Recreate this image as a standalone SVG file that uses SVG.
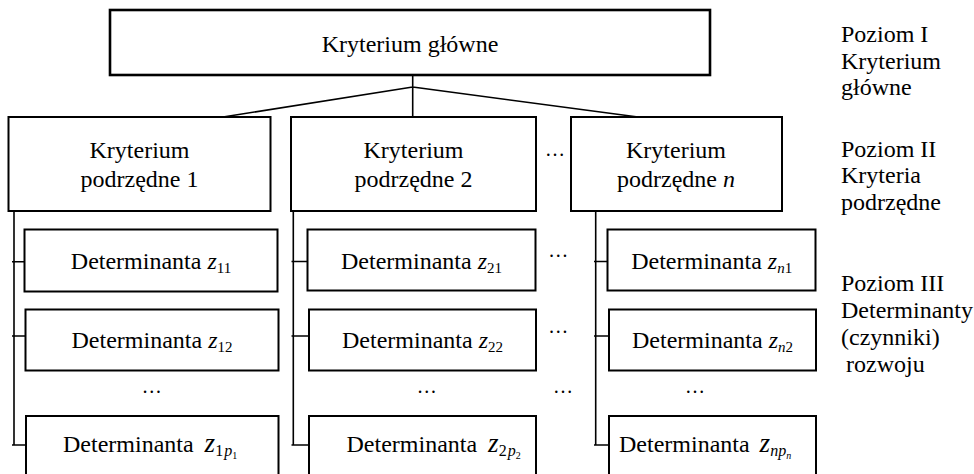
<svg xmlns="http://www.w3.org/2000/svg" width="974" height="474" viewBox="0 0 974 474">
<style>
.box{fill:#fff;stroke:#000;stroke-width:2}
.top{stroke-width:2.6}
.conn{fill:none;stroke:#000;stroke-width:1.6}
text{font-family:"Liberation Serif","Times New Roman",serif;font-size:24px;fill:#000}
.c{text-anchor:middle}
.i{font-style:italic}
.dots{font-size:20px;text-anchor:middle}
</style>
<rect width="974" height="474" fill="#fff"/>
<g id="connectors">
<path class="conn" d="M412.7 75V87M412.7 87L223 117M412.7 87V117M412.7 87L638 117"/>
<path class="conn" d="M14 211V445M12 261.7H25M12 336H26M12 445H26"/>
<path class="conn" d="M293.3 207V445M291.5 261.5H308M291.5 336H309M291.5 445H309"/>
<path class="conn" d="M595.7 211V445M594 261.5H608M594 336H609M594 445H609"/>
</g>
<g id="node-main">
<rect class="box top" x="110" y="10" width="600" height="65"/>
<text class="c" x="410" y="52">Kryterium główne</text>
</g>
<g id="node-k1">
<rect class="box" x="8.5" y="117" width="262" height="94"/>
<text class="c" x="139.5" y="158">Kryterium</text>
<text class="c" x="139.5" y="186.5">podrzędne 1</text>
</g>
<g id="node-k2">
<rect class="box" x="291" y="117" width="245" height="94"/>
<text class="c" x="413.5" y="158">Kryterium</text>
<text class="c" x="413.5" y="186.5">podrzędne 2</text>
</g>
<g id="node-kn">
<rect class="box" x="571" y="117" width="211" height="94"/>
<text class="c" x="676" y="158">Kryterium</text>
<text class="c" x="676" y="186.5">podrzędne <tspan class="i">n</tspan></text>
</g>
<g id="node-z11">
<rect class="box" x="24.5" y="229.5" width="253" height="62"/>
<text class="c" x="151" y="269">Determinanta <tspan class="i">z</tspan><tspan font-size="15" dy="4">11</tspan></text>
</g>
<g id="node-z12">
<rect class="box" x="25.5" y="309.5" width="253" height="61"/>
<text class="c" x="152" y="348.3">Determinanta <tspan class="i">z</tspan><tspan font-size="15" dy="4">12</tspan></text>
</g>
<g id="node-z1p">
<rect class="box" x="26" y="416" width="252.5" height="72"/>
<text x="63" y="451.5">Determinanta<tspan class="i" dx="11" font-size="27">z</tspan><tspan font-size="16" dy="4">1</tspan><tspan class="i" font-size="16" dx="1">p</tspan><tspan font-size="10" dy="3">1</tspan></text>
</g>
<g id="node-z21">
<rect class="box" x="307.5" y="229.5" width="228" height="61"/>
<text class="c" x="421.5" y="269">Determinanta <tspan class="i">z</tspan><tspan font-size="15" dy="4">21</tspan></text>
</g>
<g id="node-z22">
<rect class="box" x="309" y="309.5" width="227" height="61"/>
<text class="c" x="422.5" y="348.3">Determinanta <tspan class="i">z</tspan><tspan font-size="15" dy="4">22</tspan></text>
</g>
<g id="node-z2p">
<rect class="box" x="309" y="416" width="227" height="72"/>
<text x="346.5" y="451.5">Determinanta<tspan class="i" dx="11" font-size="27">z</tspan><tspan font-size="16" dy="4">2</tspan><tspan class="i" font-size="16" dx="1">p</tspan><tspan font-size="10" dy="3">2</tspan></text>
</g>
<g id="node-zn1">
<rect class="box" x="607.5" y="229.5" width="208" height="61"/>
<text class="c" x="711.7" y="269">Determinanta <tspan class="i">z</tspan><tspan class="i" font-size="15" dy="4">n</tspan><tspan font-size="15">1</tspan></text>
</g>
<g id="node-zn2">
<rect class="box" x="609" y="309.5" width="207" height="61"/>
<text class="c" x="712.5" y="348.3">Determinanta <tspan class="i">z</tspan><tspan class="i" font-size="15" dy="4">n</tspan><tspan font-size="15">2</tspan></text>
</g>
<g id="node-znp">
<rect class="box" x="609" y="416" width="207" height="72"/>
<text x="619" y="451.5">Determinanta<tspan class="i" dx="10" font-size="27">z</tspan><tspan class="i" font-size="16" dy="4">n</tspan><tspan class="i" font-size="16">p</tspan><tspan class="i" font-size="10" dy="3">n</tspan></text>
</g>
<g id="ellipses">
<text class="dots" x="555" y="156">…</text>
<text class="dots" x="558.3" y="257">…</text>
<text class="dots" x="558.3" y="333">…</text>
<text class="dots" x="563" y="393">…</text>
<text class="dots" x="151.7" y="393">…</text>
<text class="dots" x="426.7" y="393">…</text>
<text class="dots" x="695" y="393">…</text>
</g>
<g id="levels">
<text x="841" y="42">Poziom I</text>
<text x="841" y="68.5">Kryterium</text>
<text x="841" y="95">główne</text>
<text x="841" y="156.5">Poziom II</text>
<text x="841" y="183">Kryteria</text>
<text x="841" y="209.5">podrzędne</text>
<text x="841" y="290.5">Poziom III</text>
<text x="841" y="317.5">Determinanty</text>
<text x="841" y="345">(czynniki)</text>
<text x="846" y="371.5">rozwoju</text>
</g>
</svg>
